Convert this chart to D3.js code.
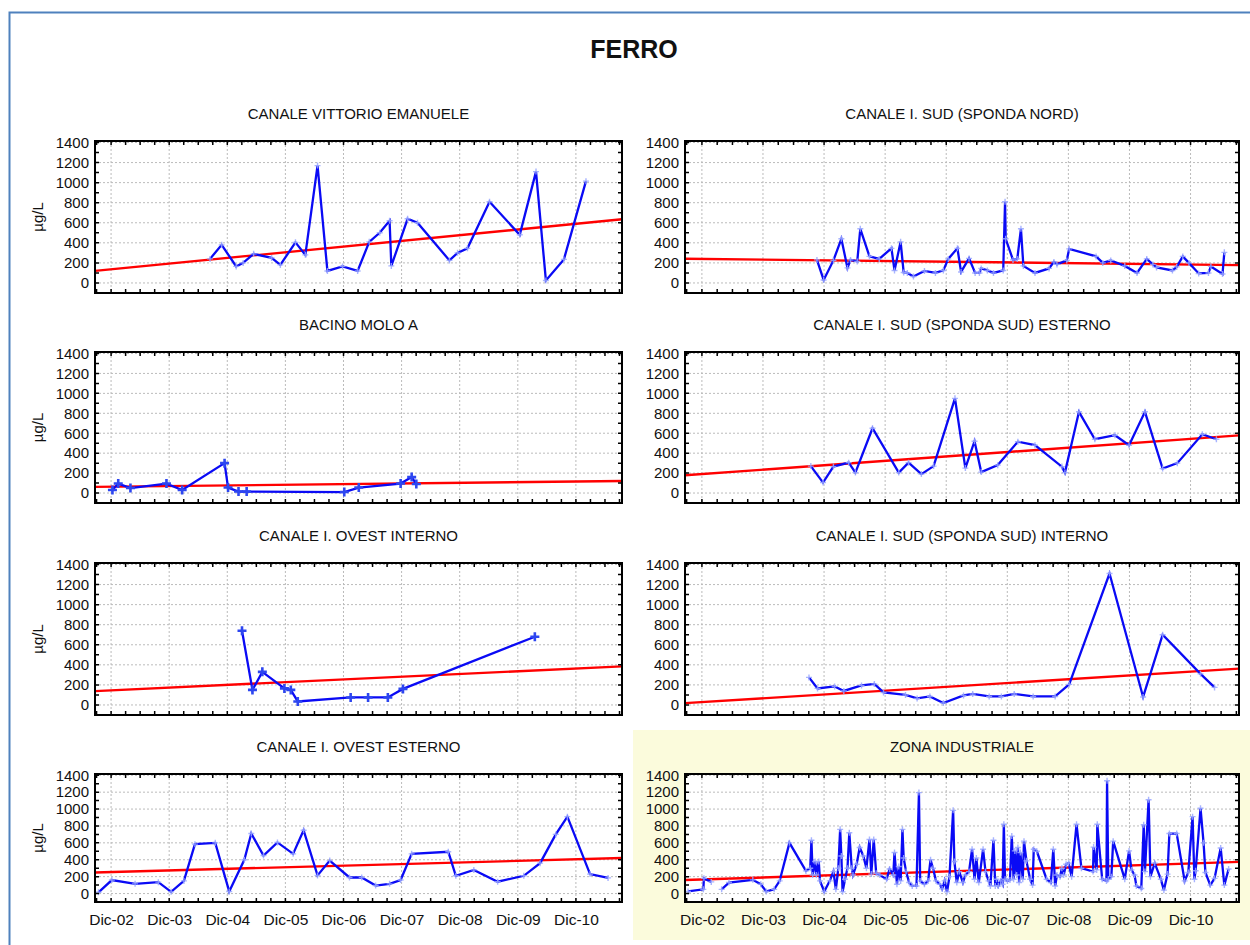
<!DOCTYPE html>
<html>
<head>
<meta charset="utf-8">
<script src="https://cdn.jsdelivr.net/npm/d3@7"></script>
<style>
	body { margin: 0; background: #fff; }
	svg { display: block; }
	text { font-family: "Liberation Sans", Arial, sans-serif; fill: #111; }
</style>
</head>
<body>
<script>
// ---- data: [decimal year, µg/L] ----
const vittorioEmanuele = [
	[2004.62,240],[2004.82,380],[2005.07,165],[2005.19,200],[2005.37,290],[2005.68,250],[2005.83,180],
	[2006.09,405],[2006.26,280],[2006.47,1170],[2006.64,120],[2006.90,165],[2007.16,120],[2007.36,410],
	[2007.54,500],[2007.71,620],[2007.74,170],[2008.02,640],[2008.19,600],[2008.74,225],[2008.88,300],
	[2009.05,345],[2009.43,810],[2009.95,480],[2010.23,1110],[2010.40,25],[2010.71,235],[2011.09,1015]
];
const sudNord = [
	[2004.80,230],[2004.91,30],[2005.07,225],[2005.20,440],[2005.30,150],[2005.35,230],[2005.46,215],
	[2005.51,540],[2005.66,265],[2005.82,240],[2006.02,345],[2006.07,125],[2006.17,410],[2006.22,105],
	[2006.28,100],[2006.38,65],[2006.56,120],[2006.74,100],[2006.87,125],[2006.95,240],[2007.10,345],
	[2007.16,110],[2007.29,245],[2007.39,100],[2007.46,100],[2007.49,145],[2007.59,125],[2007.69,100],
	[2007.85,125],[2007.88,810],[2007.89,440],[2008.01,230],[2008.08,240],[2008.14,540],[2008.18,170],
	[2008.37,100],[2008.60,145],[2008.68,210],[2008.73,185],[2008.89,225],[2008.93,340],[2009.37,265],
	[2009.48,200],[2009.61,225],[2009.84,170],[2010.04,100],[2010.20,240],[2010.30,185],[2010.36,155],
	[2010.62,125],[2010.69,160],[2010.79,265],[2010.89,200],[2011.05,95],[2011.21,100],[2011.25,165],
	[2011.44,90],[2011.47,305]
];
const bacinoMoloA = [
	[2002.94,30],[2003.04,95],[2003.25,50],[2003.87,95],[2004.14,30],[2004.87,300],[2004.93,55],
	[2005.11,15],[2005.25,15],[2006.93,10],[2007.18,55],[2007.90,95],[2008.09,160],[2008.17,90]
];
const sudSudEsterno = [
	[2004.70,270],[2004.90,105],[2005.07,265],[2005.32,305],[2005.43,205],[2005.71,650],[2006.14,205],
	[2006.30,305],[2006.51,190],[2006.71,270],[2007.06,950],[2007.23,250],[2007.38,520],[2007.49,210],
	[2007.76,280],[2008.09,515],[2008.37,480],[2008.81,265],[2008.86,205],[2009.09,815],[2009.35,540],
	[2009.68,580],[2009.91,480],[2010.17,815],[2010.46,245],[2010.70,300],[2011.11,590],[2011.34,540]
];
const ovestInterno = [
	[2005.17,740],[2005.35,150],[2005.52,330],[2005.90,165],[2006.01,150],[2006.13,35],[2007.04,75],
	[2007.34,75],[2007.68,75],[2007.94,160],[2010.21,680]
];
const sudSudInterno = [
	[2004.67,275],[2004.81,165],[2005.09,185],[2005.24,140],[2005.53,195],[2005.74,210],[2005.89,125],
	[2006.25,100],[2006.44,65],[2006.65,85],[2006.87,20],[2007.20,95],[2007.35,110],[2007.62,85],
	[2007.82,85],[2008.03,110],[2008.34,85],[2008.70,85],[2008.93,205],[2009.59,1310],[2010.14,80],
	[2010.46,700],[2011.08,310],[2011.31,175]
];
const ovestEsterno = [
	[2002.70,15],[2002.93,160],[2003.33,115],[2003.73,135],[2003.95,20],[2004.17,150],[2004.36,585],
	[2004.71,600],[2004.95,25],[2005.21,400],[2005.33,710],[2005.54,450],[2005.78,605],[2006.05,470],
	[2006.23,750],[2006.47,215],[2006.68,390],[2007.02,190],[2007.23,190],[2007.47,95],[2007.71,115],
	[2007.90,160],[2008.09,470],[2008.72,495],[2008.85,210],[2009.16,280],[2009.57,140],[2010.02,210],
	[2010.30,360],[2010.57,700],[2010.77,910],[2011.16,230],[2011.47,185]
];
const zonaIndustriale = [
	[2002.69,25],[2002.94,50],[2002.95,180],[2003.07,138],[2003.15,null],[2003.24,50],[2003.36,130],
	[2003.75,162],[2003.88,110],[2003.97,25],[2004.10,50],[2004.19,150],[2004.35,600],[2004.62,268],
	[2004.69,300],[2004.71,630],[2004.73,220],[2004.77,380],[2004.79,220],[2004.83,380],[2004.85,150],
	[2004.92,25],[2005.01,150],[2005.07,260],[2005.11,50],[2005.15,300],[2005.18,760],[2005.20,445],
	[2005.22,20],[2005.26,170],[2005.30,300],[2005.33,720],[2005.37,300],[2005.39,220],[2005.45,347],
	[2005.50,545],[2005.56,445],[2005.61,300],[2005.66,640],[2005.69,230],[2005.73,640],[2005.77,240],
	[2005.83,220],[2005.94,170],[2005.99,290],[2006.05,220],[2006.07,485],[2006.11,110],[2006.14,320],
	[2006.17,150],[2006.20,760],[2006.22,420],[2006.26,260],[2006.31,130],[2006.36,90],[2006.43,90],
	[2006.47,1195],[2006.49,150],[2006.56,110],[2006.62,150],[2006.66,400],[2006.70,300],[2006.75,150],
	[2006.81,110],[2006.85,55],[2006.89,150],[2006.93,20],[2006.97,200],[2007.03,985],[2007.05,380],
	[2007.09,130],[2007.13,260],[2007.19,130],[2007.23,220],[2007.29,260],[2007.34,525],[2007.38,170],
	[2007.41,420],[2007.45,130],[2007.52,525],[2007.56,260],[2007.61,150],[2007.64,90],[2007.69,630],
	[2007.72,90],[2007.74,170],[2007.77,90],[2007.81,150],[2007.84,110],[2007.86,820],[2007.88,170],
	[2007.92,150],[2007.96,160],[2007.99,680],[2008.02,170],[2008.04,505],[2008.07,220],[2008.09,545],
	[2008.11,130],[2008.13,485],[2008.17,170],[2008.19,620],[2008.23,387],[2008.29,170],[2008.33,100],
	[2008.35,525],[2008.40,500],[2008.56,170],[2008.63,130],[2008.67,525],[2008.70,90],[2008.73,220],
	[2008.78,200],[2008.81,300],[2008.84,220],[2008.88,347],[2008.92,360],[2008.97,200],[2009.05,820],
	[2009.13,300],[2009.32,260],[2009.33,550],[2009.38,280],[2009.39,820],[2009.47,170],[2009.54,150],
	[2009.55,1335],[2009.57,170],[2009.62,200],[2009.65,620],[2009.84,170],[2009.91,505],[2009.95,280],
	[2010.00,220],[2010.03,90],[2010.11,60],[2010.15,815],[2010.17,260],[2010.23,1110],[2010.26,200],
	[2010.33,360],[2010.43,170],[2010.48,40],[2010.54,230],[2010.57,710],[2010.69,710],[2010.82,150],
	[2010.88,250],[2010.95,910],[2010.98,170],[2011.00,270],[2011.08,1010],[2011.13,600],[2011.16,250],
	[2011.24,100],[2011.31,180],[2011.41,540],[2011.47,100],[2011.54,290]
];

// trend line value at the left and right edge of each panel
const trends = [[120, 635], [242, 178], [62, 120], [178, 578], [138, 385], [18, 362], [250, 420], [160, 375]];
const titles = [
	"CANALE VITTORIO EMANUELE", "CANALE I. SUD (SPONDA NORD)",
	"BACINO MOLO A", "CANALE I. SUD (SPONDA SUD) ESTERNO",
	"CANALE I. OVEST INTERNO", "CANALE I. SUD (SPONDA SUD) INTERNO",
	"CANALE I. OVEST ESTERNO", "ZONA INDUSTRIALE"
];
const series = [vittorioEmanuele, sudNord, bacinoMoloA, sudSudEsterno, ovestInterno, sudSudInterno, ovestEsterno, zonaIndustriale];
const boldMarkers = [false, false, true, false, true, false, false, false];
const tickYears = [2002, 2003, 2004, 2005, 2006, 2007, 2008, 2009, 2010];
const tickLabels = ["Dic-02", "Dic-03", "Dic-04", "Dic-05", "Dic-06", "Dic-07", "Dic-08", "Dic-09", "Dic-10"];
const yTicks = [0, 200, 400, 600, 800, 1000, 1200, 1400];

// ---- layout ----
const width = 1250, height = 945;
const cols = [{ x0: 95, x1: 622 }, { x0: 685, x1: 1239 }];
const rows = [{ top: 141, h: 152 }, { top: 352, h: 151 }, { top: 563, h: 152 }, { top: 774, h: 128 }];
const xDomain = [2002.64, 2011.71];
const yDomain = [-100, 1415];
const dec = y => y + 11 / 12; // "Dic-YY" = 1st December

const svg = d3.select('body').append('svg')
	.attr('width', width)
	.attr('height', height);

svg.append('rect')
	.attr('width', width).attr('height', height)
	.attr('fill', '#fff');

// yellow highlight behind ZONA INDUSTRIALE
svg.append('rect')
	.attr('x', 633).attr('y', 730)
	.attr('width', 640).attr('height', 210)
	.attr('fill', '#fbfbdc');

// outer frame
svg.append('rect')
	.attr('x', 9.5).attr('y', 12.5)
	.attr('width', 1260).attr('height', 960)
	.attr('fill', 'none')
	.attr('stroke', '#4f81bd')
	.attr('stroke-width', 2);

svg.append('text')
	.attr('x', 634).attr('y', 58)
	.attr('text-anchor', 'middle')
	.attr('font-size', 25)
	.attr('font-weight', 'bold')
	.text('FERRO');

series.forEach((data, i) => {
	const col = cols[i % 2], row = rows[Math.floor(i / 2)];
	const isBottom = i >= 6;
	const x = d3.scaleLinear().domain(xDomain).range([col.x0, col.x1]);
	const y = d3.scaleLinear().domain(yDomain).range([row.top + row.h, row.top]);
	const g = svg.append('g');

	g.append('text')
		.attr('x', (col.x0 + col.x1) / 2)
		.attr('y', row.top - 22.5)
		.attr('text-anchor', 'middle')
		.attr('font-size', 15)
		.text(titles[i]);

	g.append('rect')
		.attr('x', col.x0).attr('y', row.top)
		.attr('width', col.x1 - col.x0).attr('height', row.h)
		.attr('fill', '#fff');

	// grid
	g.selectAll('.gy').data(yTicks).join('line')
		.attr('x1', col.x0).attr('x2', col.x1)
		.attr('y1', d => y(d)).attr('y2', d => y(d))
		.attr('stroke', '#bbb').attr('stroke-dasharray', '2,2');
	g.selectAll('.gx').data(tickYears).join('line')
		.attr('x1', d => x(dec(d))).attr('x2', d => x(dec(d)))
		.attr('y1', row.top).attr('y2', row.top + row.h)
		.attr('stroke', '#bbb').attr('stroke-dasharray', '2,2');

	// trend
	g.append('path')
		.datum(xDomain.map((t, k) => [t, trends[i][k]]))
		.attr('d', d3.line().x(d => x(d[0])).y(d => y(d[1])))
		.attr('fill', 'none')
		.attr('stroke', '#f00')
		.attr('stroke-width', 2.4);

	// series
	g.append('path')
		.datum(data)
		.attr('d', d3.line().defined(d => d[1] !== null).x(d => x(d[0])).y(d => y(d[1])))
		.attr('fill', 'none')
		.attr('stroke', '#0a0af5')
		.attr('stroke-width', 2.3);

	const s = boldMarkers[i] ? 4.5 : 3;
	g.selectAll('.m').data(data.filter(d => d[1] !== null)).join('path')
		.attr('d', d => `M${x(d[0]) - s},${y(d[1])}h${2 * s}M${x(d[0])},${y(d[1]) - s}v${2 * s}`)
		.attr('stroke', boldMarkers[i] ? '#2d46f0' : '#9aa8ff')
		.attr('stroke-width', boldMarkers[i] ? 2.6 : 1.4)
		.attr('opacity', boldMarkers[i] ? 1 : 0.85);

	// frame + inward ticks
	g.append('rect')
		.attr('x', col.x0).attr('y', row.top)
		.attr('width', col.x1 - col.x0).attr('height', row.h)
		.attr('fill', 'none').attr('stroke', '#000').attr('stroke-width', 2);

	const yMinor = d3.range(-100, 1401, 100);
	g.selectAll('.tl').data(yMinor).join('path')
		.attr('d', d => `M${col.x0},${y(d)}h4M${col.x1},${y(d)}h-4`)
		.attr('stroke', '#000').attr('stroke-width', 1.5);
	const xMinor = d3.range(2002.667, 2011.7, 0.25);
	g.selectAll('.tb').data(xMinor).join('path')
		.attr('d', d => `M${x(d)},${row.top}v4M${x(d)},${row.top + row.h}v-4`)
		.attr('stroke', '#000').attr('stroke-width', 1.5);

	// y labels
	g.append('g')
		.attr('transform', `translate(${col.x0},0)`)
		.call(d3.axisLeft(y).tickValues(yTicks).tickSize(0).tickPadding(6).tickFormat(d3.format('d')))
		.call(a => a.select('.domain').remove())
		.selectAll('text')
			.attr('font-size', 15)
			.attr('font-family', '"Liberation Sans", Arial, sans-serif')
			.attr('fill', '#111');

	if (i % 2 === 0) {
		g.append('text')
			.attr('transform', `translate(43,${row.top + row.h / 2}) rotate(-90)`)
			.attr('text-anchor', 'middle')
			.attr('font-size', 15)
			.text('µg/L');
	}

	if (isBottom) {
		g.append('g')
			.attr('transform', `translate(0,${row.top + row.h})`)
			.call(d3.axisBottom(x).tickValues(tickYears.map(dec)).tickSize(0).tickPadding(12)
				.tickFormat((d, k) => tickLabels[k]))
			.call(a => a.select('.domain').remove())
			.selectAll('text')
				.attr('font-size', 15.5)
				.attr('font-family', '"Liberation Sans", Arial, sans-serif')
				.attr('fill', '#111');
	}
});
</script>
</body>
</html>
